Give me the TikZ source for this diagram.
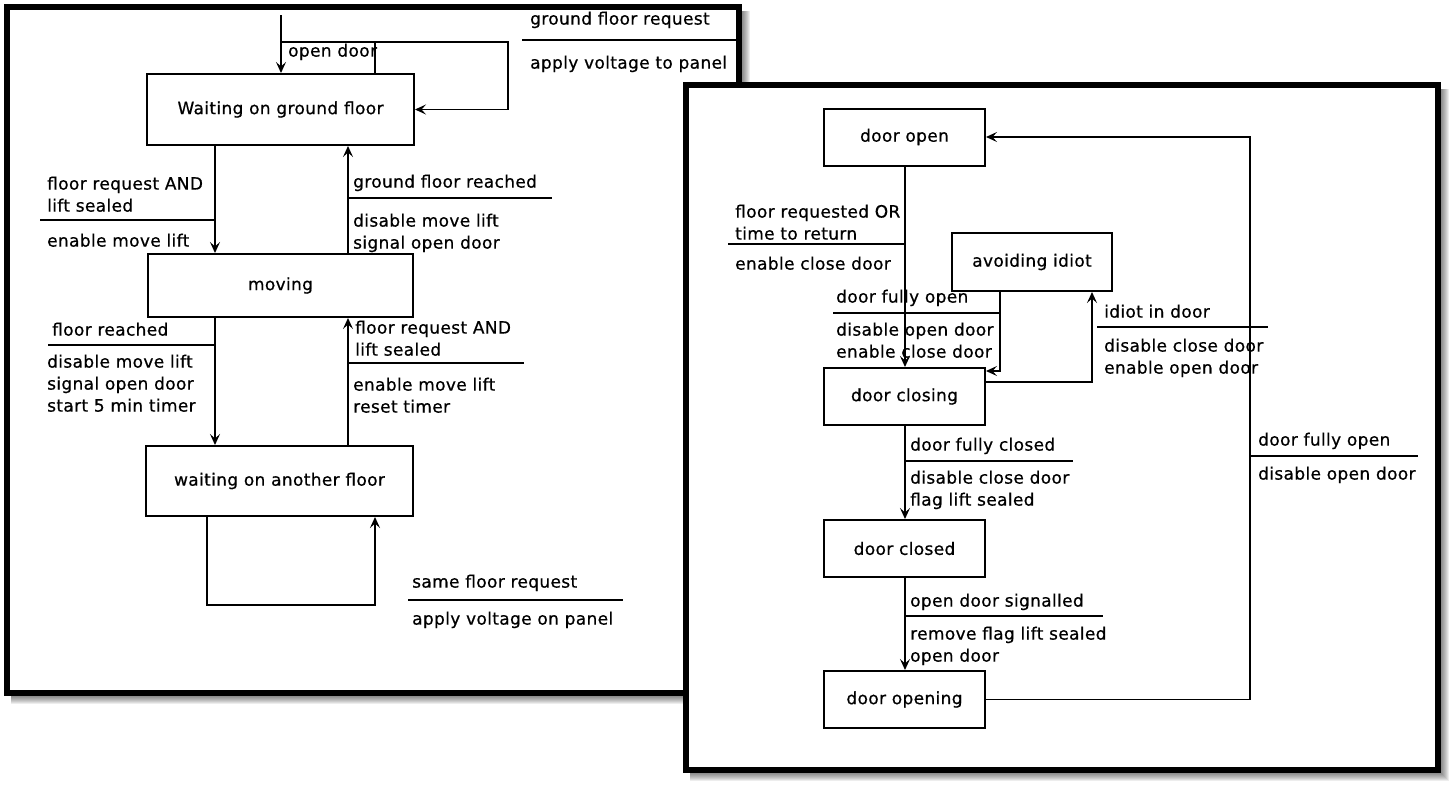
\documentclass[tikz,border=0pt]{standalone}
\usepackage{fontspec}
\setmainfont{DejaVu Sans}[LetterSpace=2, FakeBold=0.6]
\usetikzlibrary{arrows.meta}

% soft shadow below/right of a panel given by its border centre line
\newcommand\panelshadow[4]{%
  \foreach \k in {1,...,9}{%
    \fill[black,opacity=0.07] (#1+4,#2+4) rectangle (#3+2+\k,#4+2+\k);}}

\begin{document}
\begin{tikzpicture}[x=1pt,y=-1pt,
  every node/.style={font=\fontsize{17}{22}\selectfont, inner sep=0pt},
  state/.style={draw, line width=2pt, fill=white},
  conn/.style={line width=1.8pt, -{Stealth[length=11pt,width=10pt,inset=4.5pt]}},
  plain/.style={line width=1.8pt},
  sepline/.style={line width=1.8pt},
  lbl/.style={anchor=north west, align=left},
  panel/.style={line width=6pt, fill=white},
]
\useasboundingbox (0,0) rectangle (1454,787);

% ---------------- lift controller panel ----------------
\panelshadow{7}{7}{739}{693}
\draw[panel] (7,7) rectangle (739,693);

\node[state, minimum width=267pt, minimum height=71pt] (wg) at (280.5,109.5) {Waiting on ground floor};
\node[state, minimum width=265pt, minimum height=63pt] (mv) at (280.5,285.5) {moving};
\node[state, minimum width=267pt, minimum height=70pt] (ao) at (279.5,481) {waiting on another floor};

\coordinate (xa) at (215,0);
\coordinate (xb) at (348,0);
\draw[conn] (wg.south -| xa) -- (mv.north -| xa);
\draw[conn] (mv.north -| xb) -- (wg.south -| xb);
\draw[conn] (mv.south -| xa) -- (ao.north -| xa);
\draw[conn] (ao.north -| xb) -- (mv.south -| xb);

% initial transition and ground-floor request loop
\coordinate (init) at (281,15);
\coordinate (lpC) at (281,42);
\coordinate (lpA) at (375,42);
\coordinate (lpB) at (508,42);
\draw[conn] (init) -- (wg.north -| init);
\draw[conn] (wg.north -| lpA) -- (lpA) -- (lpB) |- (wg.east);
\draw[plain] (lpC) -- (lpA);

% same floor request loop
\coordinate (alA) at (207,605);
\coordinate (alB) at (375,605);
\draw[conn] (ao.south -| alA) -- (alA) -- (alB) -- (ao.south -| alB);

% labels
\node[lbl] (l1a) at (530,9) {\strut ground floor request};
\node[lbl] (l1b) at (530,53) {\strut apply voltage to panel};
\draw[sepline] (522,40) -- (740,40);
\node[lbl] (l2) at (288,41) {\strut open door};

\node[lbl] (l3a) at (47,174) {\strut floor request AND\\\strut lift sealed};
\draw[sepline] (40,220) -- (215,220);
\node[lbl] (l3b) at (47,231) {\strut enable move lift};

\node[lbl] (l4a) at (353,172) {\strut ground floor reached};
\draw[sepline] (348,198) -- (552,198);
\node[lbl] (l4b) at (353,211) {\strut disable move lift\\\strut signal open door};

\node[lbl] (l5a) at (52,320) {\strut floor reached};
\draw[sepline] (48,345) -- (215,345);
\node[lbl] (l5b) at (47,352) {\strut disable move lift\\\strut signal open door\\\strut start 5 min timer};

\node[lbl] (l6a) at (355,318) {\strut floor request AND\\\strut lift sealed};
\draw[sepline] (348,363) -- (524,363);
\node[lbl] (l6b) at (353,375) {\strut enable move lift\\\strut reset timer};

\node[lbl] (l7a) at (412,572) {\strut same floor request};
\draw[sepline] (408,600) -- (623,600);
\node[lbl] (l7b) at (412,609) {\strut apply voltage on panel};

% ---------------- door controller panel ----------------
\panelshadow{686}{85}{1438}{770}
\draw[panel] (686,85) rectangle (1438,770);

\node[state, minimum width=161pt, minimum height=57pt] (dop) at (904.5,137) {door open};
\node[state, minimum width=160pt, minimum height=58pt] (avi) at (1032,262) {avoiding idiot};
\node[state, minimum width=161pt, minimum height=57pt] (dcg) at (904.5,396.5) {door closing};
\node[state, minimum width=161pt, minimum height=57pt] (dcd) at (904.5,548.5) {door closed};
\node[state, minimum width=161pt, minimum height=57pt] (dog) at (904.5,699.5) {door opening};

\coordinate (xc) at (905,0);
\draw[conn] (dop.south -| xc) -- (dcg.north -| xc);
\draw[conn] (dcg.south -| xc) -- (dcd.north -| xc);
\draw[conn] (dcd.south -| xc) -- (dog.north -| xc);

\coordinate (ai1) at (1000,371);
\draw[conn] (avi.south -| ai1) -- (ai1) -- (dcg.east |- ai1);
\coordinate (ci1) at (1092,382);
\draw[conn] (dcg.east |- ci1) -- (ci1) -- (avi.south -| ci1);

\coordinate (ro) at (1250,0);
\draw[conn] (dog.east) -- (dog.east -| ro) -- (dop.east -| ro) -- (dop.east);

\node[lbl] (r1a) at (735,202) {\strut floor requested OR\\\strut time to return};
\draw[sepline] (728,244) -- (905,244);
\node[lbl] (r1b) at (735,254) {\strut enable close door};

\node[lbl] (r2a) at (836,287) {\strut door fully open};
\draw[sepline] (833,313) -- (1000,313);
\node[lbl] (r2b) at (836,320) {\strut disable open door\\\strut enable close door};

\node[lbl] (r3a) at (1104,302) {\strut idiot in door};
\draw[sepline] (1097,327) -- (1268,327);
\node[lbl] (r3b) at (1104,336) {\strut disable close door\\\strut enable open door};

\node[lbl] (r4a) at (910,435) {\strut door fully closed};
\draw[sepline] (905,461) -- (1073,461);
\node[lbl] (r4b) at (910,468) {\strut disable close door\\\strut flag lift sealed};

\node[lbl] (r5a) at (910,591) {\strut open door signalled};
\draw[sepline] (905,616) -- (1103,616);
\node[lbl] (r5b) at (910,624) {\strut remove flag lift sealed\\\strut open door};

\node[lbl] (r6a) at (1258,430) {\strut door fully open};
\draw[sepline] (1250,456) -- (1418,456);
\node[lbl] (r6b) at (1258,464) {\strut disable open door};
\end{tikzpicture}
\end{document}
